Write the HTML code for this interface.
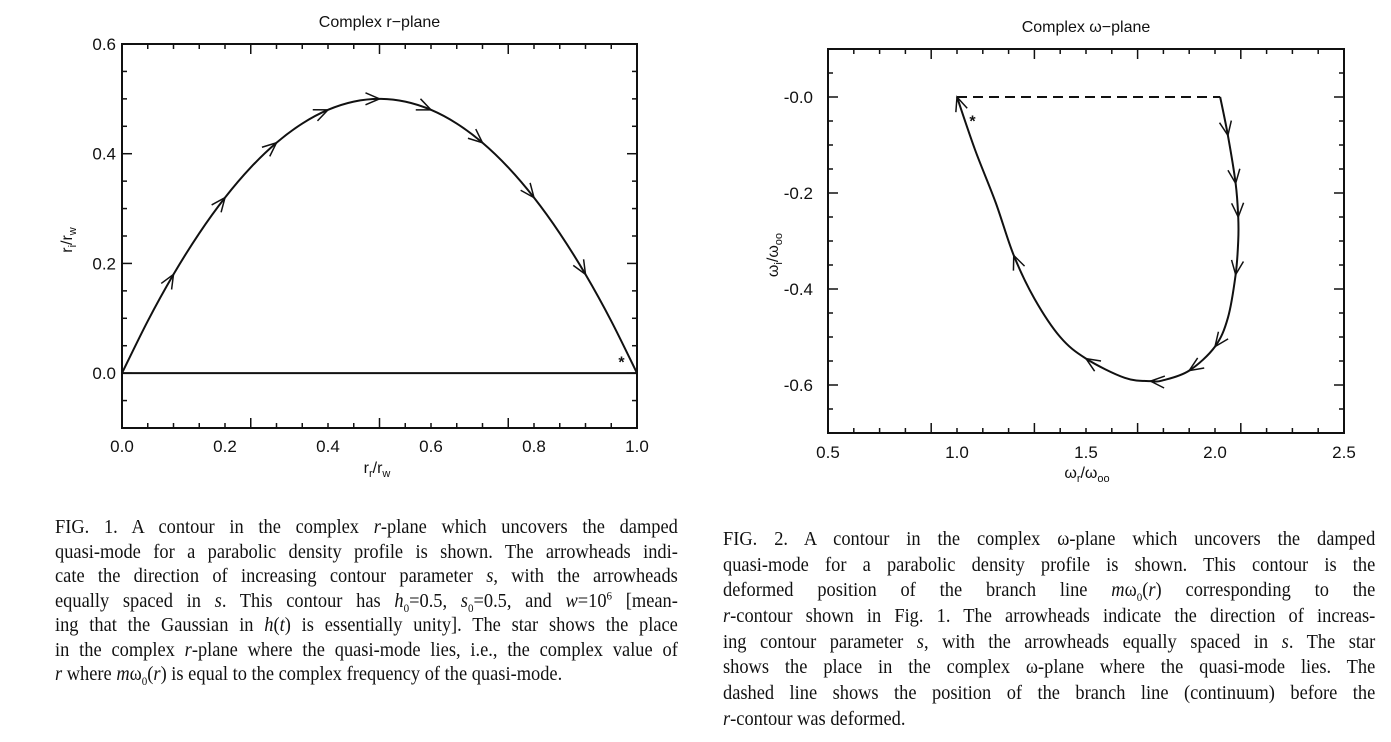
<!DOCTYPE html>
<html><head><meta charset="utf-8"><style>
body{margin:0;background:#fff;width:1391px;height:742px;overflow:hidden;position:relative;font-family:"Liberation Sans",sans-serif}
.cap{position:absolute;font-family:"Liberation Serif",serif;font-size:20px;color:#111;transform:scaleX(0.92);transform-origin:0 0}
.cap div{text-align:justify;text-align-last:justify;white-space:nowrap;overflow:visible}
.cap div.last{text-align-last:left}
.cap sub,.cap sup{font-size:12px;line-height:0}
</style></head><body>
<svg id="s" width="1391" height="742" style="position:absolute;left:0;top:0"></svg>
<div class="cap" id="c1" style="left:55px;top:515px;width:677px">
<div>FIG. 1. A contour in the complex <i>r</i>-plane which uncovers the damped</div>
<div>quasi-mode for a parabolic density profile is shown. The arrowheads indi-</div>
<div>cate the direction of increasing contour parameter <i>s</i>, with the arrowheads</div>
<div>equally spaced in <i>s</i>. This contour has <i>h</i><sub>0</sub>=0.5, <i>s</i><sub>0</sub>=0.5, and <i>w</i>=10<sup>6</sup> [mean-</div>
<div>ing that the Gaussian in <i>h</i>(<i>t</i>) is essentially unity]. The star shows the place</div>
<div>in the complex <i>r</i>-plane where the quasi-mode lies, i.e., the complex value of</div>
<div class="last"><i>r</i> where <i>m</i>ω<sub>0</sub>(<i>r</i>) is equal to the complex frequency of the quasi-mode.</div>
</div>
<div class="cap" id="c2" style="left:723px;top:527px;width:709px">
<div>FIG. 2. A contour in the complex ω-plane which uncovers the damped</div>
<div>quasi-mode for a parabolic density profile is shown. This contour is the</div>
<div>deformed position of the branch line <i>m</i>ω<sub>0</sub>(<i>r</i>) corresponding to the</div>
<div><i>r</i>-contour shown in Fig. 1. The arrowheads indicate the direction of increas-</div>
<div>ing contour parameter <i>s</i>, with the arrowheads equally spaced in <i>s</i>. The star</div>
<div>shows the place in the complex ω-plane where the quasi-mode lies. The</div>
<div>dashed line shows the position of the branch line (continuum) before the</div>
<div class="last"><i>r</i>-contour was deformed.</div>
</div>
<style>
#c1 div{height:24.5px;line-height:24.5px}
#c2 div{height:25.7px;line-height:25.7px}
</style>
<script>
// Fig 1 data
const rReal=[0,0.05,0.1,0.15,0.2,0.25,0.3,0.35,0.4,0.45,0.5,0.55,0.6,0.65,0.7,0.75,0.8,0.85,0.9,0.95,1.0];
const rImag=[0,0.095,0.18,0.255,0.32,0.375,0.42,0.455,0.48,0.495,0.5,0.495,0.48,0.455,0.42,0.375,0.32,0.255,0.18,0.095,0];
const rArrowX=[0.1,0.2,0.3,0.4,0.5,0.6,0.7,0.8,0.9];
const rStar=[0.97,0.025];
const rXTicks=["0.0","0.2","0.4","0.6","0.8","1.0"];
const rYTicks=["0.0","0.2","0.4","0.6"];
// Fig 2 data
const wReal=[2.02,2.05,2.08,2.09,2.09,2.08,2.05,2.0,1.9,1.8,1.75,1.65,1.5,1.4,1.3,1.22,1.15,1.07,1.0];
const wImag=[0,-0.08,-0.18,-0.25,-0.3,-0.37,-0.46,-0.52,-0.57,-0.59,-0.592,-0.585,-0.545,-0.5,-0.42,-0.33,-0.22,-0.11,0];
const wArrowIdx=[1,2,3,5,7,8,10,12,15,18];
const wDashed=[[1.0,0],[2.02,0]];
const wStar=[1.06,-0.045];
const wXTicks=["0.5","1.0","1.5","2.0","2.5"];
const wYTicks=["-0.0","-0.2","-0.4","-0.6"];

const S=document.getElementById('s');const NS='http://www.w3.org/2000/svg';
function mk(t,a,p){const e=document.createElementNS(NS,t);for(const k in a)e.setAttribute(k,a[k]);(p||S).appendChild(e);return e;}
function txt(x,y,s,size,anchor,name){const e=mk('text',{x:x,y:y,'font-size':size,'text-anchor':anchor||'middle',fill:'#111','font-family':'Liberation Sans, sans-serif'});e.textContent=s;


return e;}
function frame(L,T,R,B,xmin,xmax,ymin,ymax,xMinorStep,yMinorStep,name){
  const r=mk('rect',{x:L,y:T,width:R-L,height:B-T,fill:'none',stroke:'#111','stroke-width':2});
  
  
  const X=v=>L+(v-xmin)/(xmax-xmin)*(R-L),Y=v=>B-(v-ymin)/(ymax-ymin)*(B-T);
  const g=mk('g',{stroke:'#111','stroke-width':1.5});
  
  
  for(let v=xmin,i=0;v<=xmax+1e-9;v=xmin+(++i)*xMinorStep){const major=i%4==0&&name=='fig2'||i%5==0&&name=='fig1';const l=major?10:5;const x=X(v);
    mk('line',{x1:x,y1:B,x2:x,y2:B-l},g);mk('line',{x1:x,y1:T,x2:x,y2:T+l},g);}
  return {X,Y};
}
function arrow(x,y,dx,dy,name){const n=Math.hypot(dx,dy);dx/=n;dy/=n;const L=14,W=6;
  const p=`M${x-dx*L+dy*W},${y-dy*L-dx*W} L${x},${y} L${x-dx*L-dy*W},${y-dy*L+dx*W}`;
  const e=mk('path',{d:p,fill:'none',stroke:'#111','stroke-width':1.5});
  
  }
function star(x,y,name){const e=mk('text',{x:x,y:y+8,'font-size':16,'text-anchor':'middle','font-weight':'bold',fill:'#111'});e.textContent='*';
  
  }
function smooth(pts){let d=`M${pts[0][0]},${pts[0][1]}`;for(let i=0;i<pts.length-1;i++){const p0=pts[Math.max(0,i-1)],p1=pts[i],p2=pts[i+1],p3=pts[Math.min(pts.length-1,i+2)];
  d+=` C${p1[0]+(p2[0]-p0[0])/6},${p1[1]+(p2[1]-p0[1])/6} ${p2[0]-(p3[0]-p1[0])/6},${p2[1]-(p3[1]-p1[1])/6} ${p2[0]},${p2[1]}`;}return d;}

// ---- Fig 1
{const L=122,R=637,T=44,B=428;const ymin=-0.1,ymax=0.6;
 const f=frame(L,T,R,B,0,1,ymin,ymax,0.05,0.05,'fig1');
 const g=mk('g',{stroke:'#111','stroke-width':1.5});
 for(let v=-0.05;v<=0.6;v+=0.05){const y=f.Y(v);const maj=Math.abs(Math.round(v*10)-v*10)<1e-6&&Math.round(v*10)%2==0;const l=maj?10:5;mk('line',{x1:L,y1:y,x2:L+l,y2:y},g);mk('line',{x1:R,y1:y,x2:R-l,y2:y},g);}
 txt((L+R)/2,27,'Complex r\u2212plane',16,'middle','fig1-title');
 rXTicks.forEach(s=>txt(f.X(+s),452,s,17,'middle','fig1-x-tick'));
 rYTicks.forEach(s=>txt(L-6,f.Y(+s)+6,s,17,'end','fig1-y-tick'));
 const xt=txt(377,473,'',16,'middle','fig1-x-axis-title');xt.innerHTML='r<tspan font-size="11" dy="4">r</tspan><tspan dy="-4">/r</tspan><tspan font-size="11" dy="4">w</tspan>';
 const yt=txt(0,0,'',16,'middle','fig1-y-axis-title');yt.setAttribute('transform','translate(72,240) rotate(-90)');yt.innerHTML='r<tspan font-size="11" dy="4">i</tspan><tspan dy="-4">/r</tspan><tspan font-size="11" dy="4">w</tspan>';
 const bl=mk('line',{x1:f.X(0),y1:f.Y(0),x2:f.X(1),y2:f.Y(0),stroke:'#111','stroke-width':2});
 
 const pts=rReal.map((v,i)=>[f.X(v),f.Y(rImag[i])]);
 const c=mk('path',{d:smooth(pts),fill:'none',stroke:'#111','stroke-width':2});
 
 rArrowX.forEach(ax=>{let i=rReal.findIndex(v=>Math.abs(v-ax)<1e-9);const a=pts[i-1],b=pts[i+1];arrow(pts[i][0],pts[i][1],b[0]-a[0],b[1]-a[1],'fig1-arrowhead');});
 star(f.X(rStar[0]),f.Y(rStar[1]),'fig1-quasi-mode-star');
}
// ---- Fig 2
{const L=828,R=1344,T=49,B=433;const ymin=-0.7,ymax=0.1;
 const f=frame(L,T,R,B,0.5,2.5,ymin,ymax,0.1,0.05,'fig2');
 const g=mk('g',{stroke:'#111','stroke-width':1.5});
 for(let k=-14;k<=2;k++){const v=k*0.05;const y=f.Y(v);const l=(k%4==0)?10:5;mk('line',{x1:L,y1:y,x2:L+l,y2:y},g);mk('line',{x1:R,y1:y,x2:R-l,y2:y},g);}
 txt((L+R)/2,32,'Complex \u03c9\u2212plane',16,'middle','fig2-title');
 wXTicks.forEach(s=>txt(f.X(+s),458,s,17,'middle','fig2-x-tick'));
 wYTicks.forEach(s=>txt(L-15,f.Y(+s)+6,s,17,'end','fig2-y-tick'));
 const xt=txt(1087,478,'',16,'middle','fig2-x-axis-title');xt.innerHTML='\u03c9<tspan font-size="11" dy="4">r</tspan><tspan dy="-4">/\u03c9</tspan><tspan font-size="11" dy="4">oo</tspan>';
 const yt=txt(0,0,'',16,'middle','fig2-y-axis-title');yt.setAttribute('transform','translate(778,255) rotate(-90)');yt.innerHTML='\u03c9<tspan font-size="11" dy="4">i</tspan><tspan dy="-4">/\u03c9</tspan><tspan font-size="11" dy="4">oo</tspan>';
 const dl=mk('line',{x1:f.X(wDashed[0][0]),y1:f.Y(wDashed[0][1]),x2:f.X(wDashed[1][0]),y2:f.Y(wDashed[1][1]),stroke:'#111','stroke-width':2,'stroke-dasharray':'10,6'});
 
 const pts=wReal.map((v,i)=>[f.X(v),f.Y(wImag[i])]);
 const c=mk('path',{d:smooth(pts),fill:'none',stroke:'#111','stroke-width':2});
 
 wArrowIdx.forEach(i=>{const a=pts[Math.max(0,i-1)],b=pts[Math.min(pts.length-1,i+1)];arrow(pts[i][0],pts[i][1],b[0]-a[0],b[1]-a[1],'fig2-arrowhead');});
 star(f.X(wStar[0]),f.Y(wStar[1]),'fig2-quasi-mode-star');
}
</script>
</body></html>
